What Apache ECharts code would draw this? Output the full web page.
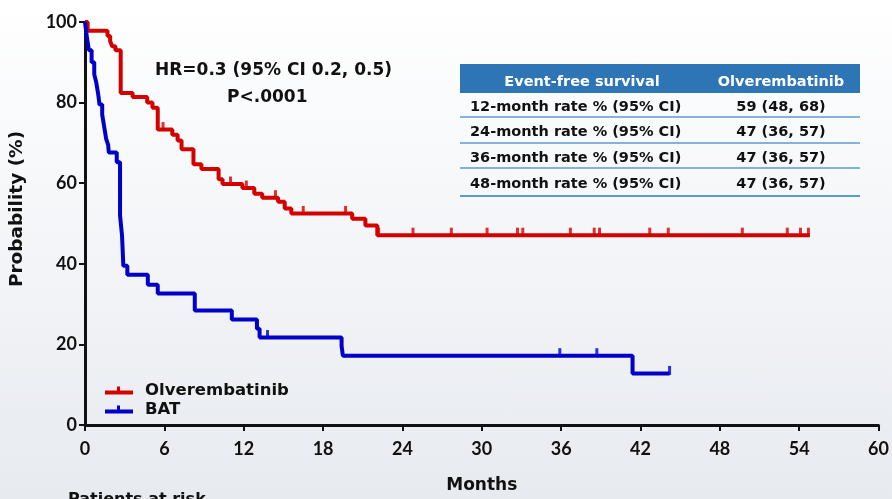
<!DOCTYPE html>
<html>
<head>
<meta charset="utf-8">
<script src="https://cdn.jsdelivr.net/npm/echarts@6/dist/echarts.min.js"></script>
<style>
html,body{margin:0;padding:0;}
#c{width:892px;height:499px;background:linear-gradient(to bottom,#ffffff 0%,#f3f5f8 50%,#e7eaef 100%);}
</style>
</head>
<body>
<div id="c"></div>
<script>
// ---- Data ----
var xTicks = [0, 6, 12, 18, 24, 30, 36, 42, 48, 54, 60];
var yTicks = [0, 20, 40, 60, 80, 100];
var seriesNames = ['Olverembatinib', 'BAT'];
// [months, survival %] after each event
var olveTimes = [0, 0.2, 1.7, 1.9, 2.05, 2.3, 2.7, 3.6, 4.7, 5.1, 5.5, 6.6, 7.0, 7.3, 8.2, 8.8, 10.1, 10.4, 11.9, 12.8, 13.4, 14.6, 15.1, 15.6, 20.2, 21.2, 22.1, 54.8];
var olveSurv  = [100, 97.8, 96.5, 95.3, 94, 93, 82.4, 81.4, 80, 78.7, 73.3, 72, 70.6, 68.4, 64.7, 63.5, 61, 59.8, 58.8, 57.4, 56.4, 55.4, 53.7, 52.5, 51.2, 49.5, 47.1, 47.1];
var olveCensor = [5.9, 11.0, 12.2, 14.4, 16.5, 19.7, 22.2, 24.8, 27.7, 30.4, 32.7, 33.1, 36.7, 38.5, 38.9, 42.7, 44.1, 49.7, 53.1, 54.1, 54.7];
var batTimes = [0, 0.15, 0.3, 0.5, 0.7, 0.85, 1.0, 1.1, 1.3, 1.45, 1.6, 1.75, 1.8, 2.4, 2.65, 2.8, 2.9, 3.2, 4.75, 5.5, 8.3, 11.1, 13.0, 13.2, 19.4, 19.5, 41.4, 44.2];
var batSurv  = [100, 96, 93, 90, 87, 85, 82, 79.5, 77, 74, 71, 69.5, 67.6, 65.2, 52, 47, 39.5, 37.3, 34.8, 32.6, 28.4, 26.2, 23.9, 21.7, 19.6, 17.2, 12.8, 12.8];
var batCensor = [13.8, 35.9, 38.7, 44.2];
var hrText = 'HR=0.3 (95% CI 0.2, 0.5)';
var pText = 'P<.0001';
var tableHeader = ['Event-free survival', 'Olverembatinib'];
var tableRows = ['12-month rate % (95% CI)', '24-month rate % (95% CI)', '36-month rate % (95% CI)', '48-month rate % (95% CI)'];
var tableVals = ['59 (48, 68)', '47 (36, 57)', '47 (36, 57)', '47 (36, 57)'];
var xTitle = 'Months';
var yTitle = 'Probability (%)';
var riskTitle = 'Patients at risk';

// ---- Build ----
function pairs(t, s) { return t.map(function (v, i) { return [v, s[i]]; }); }
function survAt(t, s, x) { var v = s[0]; for (var i = 0; i < t.length; i++) { if (t[i] <= x) v = s[i]; } return v; }
function censorPts(t, s, c) { return c.map(function (x) { return [x, survAt(t, s, x)]; }); }

var RED = '#d40000', BLUE = '#0000c8';
var TFONT = '"DejaVu Sans", sans-serif';
var NFONT = 'Lato, "DejaVu Sans", sans-serif';
var chart = echarts.init(document.getElementById('c'), null, {renderer: 'canvas'});

var graphics = [];
graphics.push({type: 'text', left: 155, top: 62, style: {text: hrText, font: 'bold 17px ' + TFONT, fill: '#111'}});
graphics.push({type: 'text', left: 227, top: 89, style: {text: pText, font: 'bold 17px ' + TFONT, fill: '#111'}});
graphics.push({type: 'text', x: 17, y: 209, rotation: Math.PI / 2,
  style: {text: yTitle, font: 'bold 18.5px ' + TFONT, fill: '#111', textAlign: 'center', textVerticalAlign: 'middle'}});
// Table
var tx0 = 460, tx1 = 860, c1 = 470, c2 = 781;
graphics.push({type: 'rect', shape: {x: tx0, y: 64, width: tx1 - tx0, height: 29}, style: {fill: '#2e75b6'}});
graphics.push({type: 'text', x: 582, y: 82, style: {text: tableHeader[0], font: 'bold 14.5px ' + TFONT, fill: '#fff', textAlign: 'center', textVerticalAlign: 'middle'}});
graphics.push({type: 'text', x: c2, y: 82, style: {text: tableHeader[1], font: 'bold 14.5px ' + TFONT, fill: '#fff', textAlign: 'center', textVerticalAlign: 'middle'}});
var rowY = [107, 132, 158, 184];
var lineY = [117, 143, 168, 196];
tableRows.forEach(function (r, i) {
  graphics.push({type: 'text', x: c1, y: rowY[i], style: {text: r, font: 'bold 14.5px ' + TFONT, fill: '#111', textVerticalAlign: 'middle'}});
  graphics.push({type: 'text', x: c2, y: rowY[i], style: {text: tableVals[i], font: 'bold 14.5px ' + TFONT, fill: '#111', textAlign: 'center', textVerticalAlign: 'middle'}});
  graphics.push({type: 'line', shape: {x1: tx0, y1: lineY[i], x2: tx1, y2: lineY[i]}, style: {stroke: '#5b9bd5', lineWidth: i === 3 ? 2 : 1.5}});
});
graphics.push({type: 'text', left: 68, top: 492, style: {text: riskTitle, font: 'bold 16px ' + TFONT, fill: '#111'}});

var option = {
  backgroundColor: 'transparent',
  animation: false,
  grid: {left: 85, right: 13, top: 22, bottom: 70},
  xAxis: {
    type: 'value', min: 0, max: 60, interval: 6,
    name: xTitle, nameLocation: 'middle', nameGap: 52,
    nameTextStyle: {fontFamily: TFONT, fontWeight: 'bold', fontSize: 17, color: '#111'},
    axisLine: {lineStyle: {color: '#111', width: 3}},
    axisTick: {show: true, length: 6, lineStyle: {color: '#111', width: 2}},
    axisLabel: {fontFamily: NFONT, fontWeight: 'bold', fontSize: 18, color: '#111', margin: 15,
      formatter: function (v) { return xTicks.indexOf(v) >= 0 ? String(v) : ''; }},
    splitLine: {show: false}
  },
  yAxis: {
    type: 'value', min: 0, max: 100, interval: 20,
    axisLine: {show: true, lineStyle: {color: '#111', width: 3}},
    axisTick: {show: true, length: 6, lineStyle: {color: '#111', width: 2}},
    axisLabel: {fontFamily: NFONT, fontWeight: 'bold', fontSize: 18, color: '#111', margin: 8,
      formatter: function (v) { return yTicks.indexOf(v) >= 0 ? String(v) : ''; }},
    splitLine: {show: false}
  },
  legend: {
    data: seriesNames, orient: 'vertical', left: 100, top: 377, itemGap: 2,
    itemWidth: 28, itemHeight: 10,
    icon: 'path://M0,5 L28,5 L28,9 L0,9 Z M12,1 L15,1 L15,5 L12,5 Z',
    textStyle: {fontFamily: TFONT, fontWeight: 'bold', fontSize: 16.5, color: '#111', padding: [0, 0, 0, 7]}
  },
  series: [
    {name: seriesNames[0], type: 'line', step: 'end', showSymbol: false, data: pairs(olveTimes, olveSurv),
      lineStyle: {color: RED, width: 4}, itemStyle: {color: RED}, z: 3},
    {name: seriesNames[1], type: 'line', step: 'end', showSymbol: false, data: pairs(batTimes, batSurv),
      lineStyle: {color: BLUE, width: 4}, itemStyle: {color: BLUE}, z: 3},
    {name: 'olveCensor', type: 'scatter', data: censorPts(olveTimes, olveSurv, olveCensor),
      symbol: 'rect', symbolSize: [3, 9], symbolOffset: [0, -3], itemStyle: {color: RED}, z: 4},
    {name: 'batCensor', type: 'scatter', data: censorPts(batTimes, batSurv, batCensor),
      symbol: 'rect', symbolSize: [3, 9], symbolOffset: [0, -3], itemStyle: {color: BLUE}, z: 4}
  ],
  graphic: graphics
};
chart.setOption(option);
</script>
</body>
</html>
